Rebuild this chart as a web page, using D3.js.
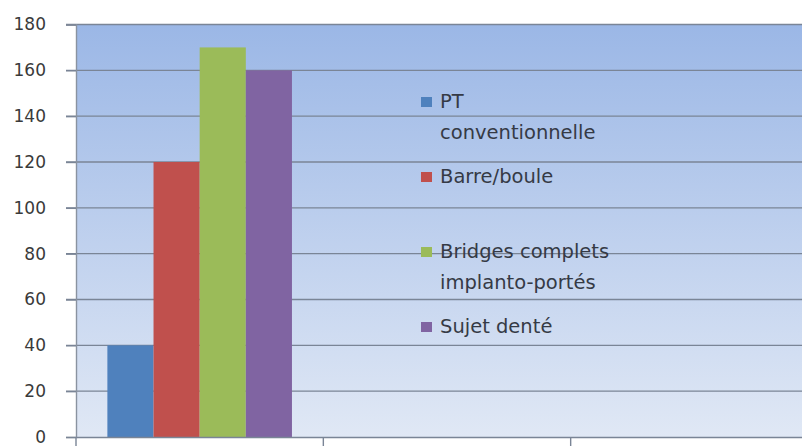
<!DOCTYPE html>
<html><head><meta charset="utf-8">
<script src="https://cdn.jsdelivr.net/npm/d3@7"></script>
<style>html,body{margin:0;padding:0;background:#fff;}svg{display:block;}</style>
</head><body>
<svg id="chart" width="802" height="446"></svg>
<script>
const categories = ["1", "2", "3"];
const seriesNames = ["PT\nconventionnelle", "Barre/boule", "Bridges complets\nimplanto-portés", "Sujet denté"];
const seriesColors = ["#4f81bd", "#c0504d", "#9bbb59", "#8064a2"];
const values = [
  [40, null, null],
  [120, null, null],
  [170, null, null],
  [160, null, null]
];
const yTicks = [0, 20, 40, 60, 80, 100, 120, 140, 160, 180];

(function() {
const svg = d3.select("#chart");
const W = 802, H = 446;
const mLeft = 76, mTop = 24.5, mBottom = 437, mRight = 818;

const x = d3.scaleBand().domain(categories).range([mLeft, mRight]).paddingInner(0).paddingOuter(0);
const xs = d3.scaleBand().domain(seriesNames.map((d, i) => i)).range([0, x.bandwidth()]).paddingOuter(0.68).paddingInner(0);
const y = d3.scaleLinear().domain([0, 180]).range([mBottom, mTop]);

const defs = svg.append("defs");
const grad = defs.append("linearGradient").attr("id", "bg").attr("x1", 0).attr("y1", 0).attr("x2", 0).attr("y2", 1);
grad.append("stop").attr("offset", "0%").attr("stop-color", "#9bb7e6");
grad.append("stop").attr("offset", "100%").attr("stop-color", "#e0e8f5");

svg.append("rect").attr("x", mLeft).attr("y", mTop).attr("width", mRight - mLeft).attr("height", mBottom - mTop).attr("fill", "url(#bg)");

svg.append("g").selectAll("line").data(yTicks.filter(d => d > 0)).join("line")
  .attr("x1", mLeft - 10).attr("x2", W).attr("y1", d => y(d)).attr("y2", d => y(d))
  .attr("stroke", "#7a8596").attr("stroke-width", 1.4);

const groups = svg.append("g").selectAll("g").data(seriesNames).join("g").attr("fill", (d, i) => seriesColors[i]);
groups.each(function(name, si) {
  d3.select(this).selectAll("rect").data(categories.map((c, ci) => ({c, v: values[si][ci]})).filter(d => d.v != null)).join("rect")
    .attr("x", d => x(d.c) + xs(si)).attr("width", xs.bandwidth())
    .attr("y", d => y(d.v)).attr("height", d => y(0) - y(d.v));
});

const yAxis = d3.axisLeft(y).tickValues(yTicks).tickSize(10).tickPadding(20);
const ga = svg.append("g").attr("transform", `translate(${mLeft},0)`).call(yAxis);
ga.select(".domain").attr("stroke", "#8a93a0").attr("stroke-width", 1.4);
ga.selectAll(".tick line").attr("stroke", "#7a8596").attr("stroke-width", 1.4);
ga.selectAll("text").attr("font-family", "DejaVu Sans").attr("font-size", 17).attr("fill", "#3a3a3a");

const xAxis = d3.axisBottom(x).tickSize(0).tickFormat("");
const gx = svg.append("g").attr("transform", `translate(0,${mBottom})`).call(xAxis);
gx.select(".domain").attr("stroke", "#7a8596").attr("stroke-width", 1.4);
svg.append("g").selectAll("line").data(categories).join("line")
  .attr("x1", d => x(d)).attr("x2", d => x(d)).attr("y1", mBottom).attr("y2", H)
  .attr("stroke", "#7a8596").attr("stroke-width", 1.4);

const lg = svg.append("g");
seriesNames.forEach((name, i) => {
  const base = 108 + i * 75;
  lg.append("rect").attr("x", 421).attr("y", base - 11).attr("width", 11).attr("height", 10).attr("fill", seriesColors[i]);
  const t = lg.append("text").attr("x", 440).attr("y", base).attr("font-family", "DejaVu Sans").attr("font-size", 19.5).attr("fill", "#353a45");
  name.split("\n").forEach((line, li) => {
    t.append("tspan").attr("x", 440).attr("dy", li === 0 ? 0 : 31).text(line);
  });
});
})();
</script>
</body></html>
